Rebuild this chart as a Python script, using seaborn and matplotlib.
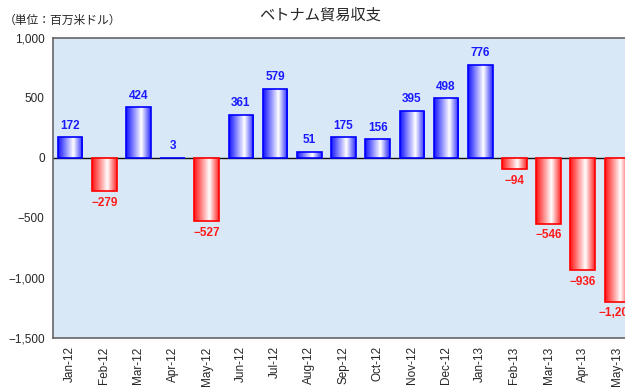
import matplotlib
matplotlib.use("Agg")
import matplotlib.pyplot as plt
import seaborn as sns
import numpy as np
import pandas as pd
from matplotlib.colors import LinearSegmentedColormap

months = ["Jan-12", "Feb-12", "Mar-12", "Apr-12", "May-12", "Jun-12", "Jul-12", "Aug-12",
          "Sep-12", "Oct-12", "Nov-12", "Dec-12", "Jan-13", "Feb-13", "Mar-13", "Apr-13", "May-13"]
balance = [172, -279, 424, 3, -527, 361, 579, 51, 175, 156, 395, 498, 776, -94, -546, -936, -1200]
yticks = [1000, 500, 0, -500, -1000, -1500]
title = "ベトナム貿易収支"
unit = "（単位：百万米ドル）"

sns.set_theme(style="white")
plt.rcParams['font.family'] = ['Liberation Sans', 'Noto Sans CJK JP', 'DejaVu Sans']
plt.rcParams['axes.unicode_minus'] = True

df = pd.DataFrame({"month": months, "value": balance})
df["sign"] = np.where(df["value"] >= 0, "pos", "neg")

fig = plt.figure(figsize=(6.25, 3.88), dpi=100)
W, H = 625, 388
left, right, top, bottom = 53, 634, 38, 338
ax = fig.add_axes([left / W, 1 - bottom / H, (right - left) / W, (bottom - top) / H])
ax.set_facecolor("#d9e8f7")

sns.barplot(data=df, x="month", y="value", hue="sign", palette={"pos": "#0000ff", "neg": "#ff0000"},
            dodge=False, legend=False, width=0.72, ax=ax, linewidth=1.2, saturation=1)

blue_cmap = LinearSegmentedColormap.from_list("b", [(0, "#1515ff"), (0.62, "#ffffff"), (1, "#2a2aff")])
red_cmap = LinearSegmentedColormap.from_list("r", [(0, "#ff1515"), (0.62, "#ffffff"), (1, "#ff2a2a")])
grad = np.linspace(0, 1, 64).reshape(1, -1)

for p in list(ax.patches):
    x0, y0 = p.get_x(), p.get_y()
    w, h = p.get_width(), p.get_height()
    is_pos = h > 0
    edge = "#0000ff" if is_pos else "#ff0000"
    cmap = blue_cmap if is_pos else red_cmap
    p.set_facecolor("none")
    p.set_edgecolor(edge)
    p.set_zorder(3)
    ylo, yhi = sorted([y0, y0 + h])
    im = ax.imshow(grad, cmap=cmap, aspect="auto", extent=[x0, x0 + w, ylo, yhi], zorder=2,
                   interpolation="bilinear")
    im.set_clip_path(p)

for i, v in enumerate(balance):
    if v >= 0:
        ax.text(i, v + 45, f"{v:,}", ha="center", va="bottom", color="#1a1aff",
                fontsize=8.5, fontweight="bold")
    else:
        ax.text(i, v - 45, f"{v:,}".replace("-", "\u2212"), ha="center", va="top", color="#ff1a1a",
                fontsize=8.5, fontweight="bold")

ax.set_xlim(-0.5, len(months) - 0.5)
ax.set_ylim(-1500, 1000)
ax.set_yticks(yticks)
ax.set_yticklabels([f"{t:,}".replace("-", "\u2212") for t in yticks], fontsize=8.5)
ax.set_xticks(range(len(months)))
ax.set_xticklabels(months, rotation=90, fontsize=8.5)
ax.tick_params(axis="both", length=0, pad=6)
ax.axhline(0, color="#111111", linewidth=1, zorder=1)
ax.set_xlabel("")
ax.set_ylabel("")
for s in ax.spines.values():
    s.set_color("#666666")
    s.set_linewidth(1.2)

fig.text(320 / W, 1 - 15 / H, title, ha="center", va="center", fontsize=11,
         family=['Noto Sans CJK JP', 'DejaVu Sans'])
fig.text(4 / W, 1 - 20 / H, unit, ha="left", va="center", fontsize=8.5,
         family=['Noto Sans CJK JP', 'DejaVu Sans'])

fig.savefig("out.png", dpi=100)
